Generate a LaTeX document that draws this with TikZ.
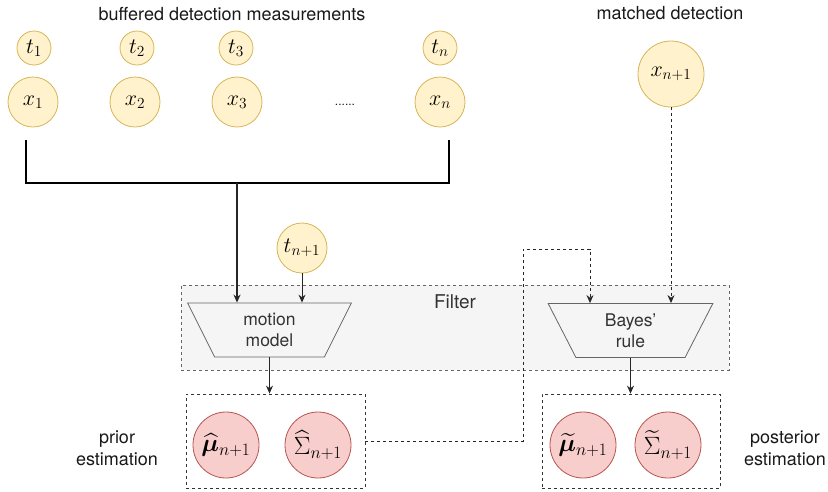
\RequirePackage{fix-cm}
\documentclass[tikz,border=0pt]{standalone}
\usepackage{amsmath,bm}
\usepackage{fontspec}
\setmainfont{TeX Gyre Heros}
\setsansfont{TeX Gyre Heros}
\usetikzlibrary{shapes.geometric,arrows.meta}
\definecolor{ylwfill}{HTML}{FFF2CC}
\definecolor{ylwline}{HTML}{D6B656}
\definecolor{redfill}{HTML}{F8CECC}
\definecolor{redline}{HTML}{B85450}
\definecolor{boxfill}{HTML}{F5F5F5}
\definecolor{boxline}{HTML}{666666}
\definecolor{boxtext}{HTML}{333333}
\tikzset{
  lbl/.style={font=\fontsize{18}{22}\selectfont, text=black!90, align=center},
  ycirc/.style={circle, fill=ylwfill, draw=ylwline, line width=0.8pt, inner sep=0pt,
    font=\fontsize{22}{26}\selectfont},
  rcirc/.style={circle, fill=redfill, draw=redline, line width=0.8pt, inner sep=0pt,
    minimum size=66pt, font=\fontsize{25}{29}\selectfont},
  unit/.style={trapezium, trapezium stretches=true, shape border rotate=180,
    trapezium angle=69, minimum width=165pt, minimum height=54pt, inner sep=0pt,
    fill=boxfill, draw=boxline, line width=0.8pt, text=boxtext, align=center,
    font=\fontsize{17.5}{21}\selectfont},
  dbox/.style={rectangle, draw=black!80, dash pattern=on 3pt off 3pt, line width=0.8pt},
  link/.style={draw=black!85, line width=1pt, -{Stealth[length=8pt,width=7pt]}},
  dlink/.style={link, dash pattern=on 3pt off 3pt},
  bus/.style={draw=black, line width=2pt}
}
\begin{document}
\begin{tikzpicture}[x=1pt,y=-1pt]
\useasboundingbox (0,0) rectangle (828,491);

% filter background
\node[rectangle, fill=boxfill, draw=boxline, dash pattern=on 3pt off 3pt, line width=0.8pt,
  minimum width=548pt, minimum height=85pt] (filter) at (455,327.5) {};
\node[lbl, text=boxtext, font=\fontsize{19}{23}\selectfont] (filtertxt) at (455,302) {Filter};

% measurements
\node[lbl] (buftxt) at (232,14) {buffered detection measurements};
\node[lbl] (matchtxt) at (670,13) {matched detection};
\node[ycirc, minimum size=34pt] (t1) at (34,48) {$t_1$};
\node[ycirc, minimum size=34pt] (t2) at (137,48) {$t_2$};
\node[ycirc, minimum size=34pt] (t3) at (236,48) {$t_3$};
\node[ycirc, minimum size=34pt] (tn) at (440,48) {$t_n$};
\node[ycirc, minimum size=50pt] (x1) at (33,102) {$x_1$};
\node[ycirc, minimum size=50pt] (x2) at (135,102) {$x_2$};
\node[ycirc, minimum size=50pt] (x3) at (237,102) {$x_3$};
\node[ycirc, minimum size=50pt] (xn) at (440,102) {$x_n$};
\node[lbl, font=\fontsize{12}{14}\selectfont] (dots) at (345,105) {......};
\node[ycirc, minimum size=50pt] (tn1) at (302,248) {$t_{n+1}$};
\node[ycirc, minimum size=66pt] (xn1) at (671,74) {$x_{n+1}$};

% filter units
\node[unit] (motion) at (269.5,330) {motion\\model};
\node[unit] (bayes) at (630.5,330.5) {Bayes'\\rule};

% estimations
\node[dbox, minimum width=179pt, minimum height=94pt] (prior) at (275.5,441) {};
\node[dbox, minimum width=178pt, minimum height=94pt] (post) at (631,441) {};
\node[rcirc] (muhat) at (226,445) {$\widehat{\bm{\mu}}_{n+1}$};
\node[rcirc] (sighat) at (318,445) {$\widehat{\Sigma}_{n+1}$};
\node[rcirc] (mutil) at (583,445) {$\widetilde{\bm{\mu}}_{n+1}$};
\node[rcirc] (sigtil) at (668,445) {$\widetilde{\Sigma}_{n+1}$};
\node[lbl] (priortxt) at (117,448) {prior\\estimation};
\node[lbl] (posttxt) at (785,448) {posterior\\estimation};

% connectors
\coordinate (bl) at (26,140);
\coordinate (br) at (449,140);
\coordinate (bj) at (237,183);
\draw[bus] (bl) |- (bj) -| (br);
\draw[link, line width=2pt] (bj) -- (bj |- motion.north);
\draw[link] (tn1) -- (tn1 |- motion.north);
\draw[link] (motion.south) -- (prior.north -| motion.south);
\coordinate (lp1) at (523,249);
\coordinate (lp2) at (590,249);
\draw[dlink] (prior.east) -| (lp1) -- (lp2) -- (lp2 |- bayes.north);
\draw[dlink] (xn1) -- (xn1 |- bayes.north);
\draw[link] (bayes.south) -- (post.north -| bayes.south);
\end{tikzpicture}
\end{document}
